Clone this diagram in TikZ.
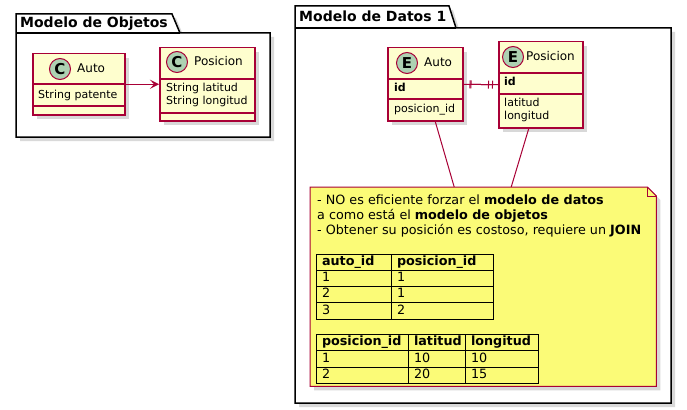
\documentclass[tikz,border=0pt]{standalone}
\usepackage{fontspec}
\setmainfont{DejaVu Sans}
\usepackage{tikz}
\usetikzlibrary{arrows.meta,positioning,calc,shadows,matrix}
\definecolor{umlred}{HTML}{A80036}
\definecolor{classfill}{HTML}{FEFECE}
\definecolor{spotfill}{HTML}{ADD1B2}
\definecolor{notefill}{HTML}{FBFB77}

\begin{document}
\begin{tikzpicture}[x=1pt, y=-1pt,
  shade/.style={drop shadow={shadow xshift=4pt, shadow yshift=-4pt, opacity=0.3}},
  pkg/.style={draw=black, line width=1.5pt, fill=white, line join=miter, shade},
  pkgtitle/.style={anchor=west, inner sep=0, font=\bfseries\fontsize{14}{16}\selectfont},
  klass/.style={draw=umlred, line width=1.5pt, fill=classfill, anchor=north west, inner sep=0, shade},
  divider/.style={draw=umlred, line width=1.5pt},
  spot/.style={circle, draw=umlred, line width=1pt, fill=spotfill, minimum size=21pt, inner sep=0, font=\bfseries\fontsize{15}{15}\selectfont},
  cname/.style={inner sep=0, text height=9pt, text depth=2.5pt, font=\fontsize{12}{14}\selectfont},
  field/.style={anchor=west, inner sep=0, text height=8pt, text depth=2.5pt, font=\fontsize{11}{13}\selectfont},
  link/.style={draw=umlred, line width=1pt},
  arr/.style={link, -{Stealth[length=9pt, width=9pt, inset=4pt]}},
  onlyone/.style={draw=umlred, line width=1pt, {Bar[width=8pt, sep=3pt]Bar[width=8pt]}-{Bar[width=8pt, sep=3pt]Bar[width=8pt]}},
  notebox/.style={draw=umlred, line width=1pt, fill=notefill, shade},
  notetext/.style={anchor=base west, inner sep=0, font=\fontsize{12.75}{15}\selectfont},
  tbl/.style={matrix of nodes, anchor=north west, inner sep=0, outer sep=0, row sep=-1pt, column sep=-1pt,
    nodes={draw, line width=1pt, outer sep=0, inner xsep=6pt, inner ysep=0, minimum height=16.25pt,
      text height=9pt, text depth=2.5pt, align=left, font=\fontsize{12.75}{15}\selectfont},
    row 1/.style={nodes={font=\bfseries\fontsize{12.75}{15}\selectfont}}}
]
  \useasboundingbox (0,0) rectangle (687,409);

  % Modelo de Objetos
  \draw[pkg] (16,33) -- (16,14) -- (172,14) -- (180,33) -- (270,33) -- (270,137) -- (16,137) -- cycle;
  \draw[line width=1.5pt] (16,33) -- (180,33);
  \node[pkgtitle] (pkgobj) at (20,23.5) {Modelo de Objetos};

  \node[klass, minimum width=92pt, minimum height=61pt] (oauto) at (32,53) {};
  \draw[divider] (oauto.west |- 0,84) -- (oauto.east |- 0,84);
  \draw[divider] (oauto.west |- 0,106) -- (oauto.east |- 0,106);
  \node[spot] (oautospot) at (60,69) {C};
  \node[cname, right=6pt of oautospot] (oautoname) {Auto};
  \node[field] (oautopat) at (38,96) {String patente};

  \node[klass, minimum width=95pt, minimum height=73pt] (opos) at (159,47) {};
  \draw[divider] (opos.west |- 0,79) -- (opos.east |- 0,79);
  \draw[divider] (opos.west |- 0,113) -- (opos.east |- 0,113);
  \node[spot] (opospot) at (177,62) {C};
  \node[cname, right=6pt of opospot] (oposname) {Posicion};
  \node[field] (oposlat) at (166,89) {String latitud};
  \node[field, below=2pt of oposlat.south west, anchor=north west] (oposlon) {String longitud};

  \draw[arr] (oauto.east) -- (opos.west);

  % Modelo de Datos 1
  \draw[pkg] (295,28) -- (295,6) -- (449,6) -- (456,28) -- (671,28) -- (671,403) -- (295,403) -- cycle;
  \draw[line width=1.5pt] (295,28) -- (456,28);
  \node[pkgtitle] (pkgdat) at (299,16) {Modelo de Datos 1};

  \node[klass, minimum width=75pt, minimum height=73pt] (eauto) at (387,47) {};
  \draw[divider] (eauto.west |- 0,79) -- (eauto.east |- 0,79);
  \draw[divider] (eauto.west |- 0,99) -- (eauto.east |- 0,99);
  \node[spot] (eautospot) at (407,63) {E};
  \node[cname, right=6pt of eautospot] (eautoname) {Auto};
  \node[field, font=\bfseries\fontsize{11}{13}\selectfont] (eautoid) at (394,89) {id};
  \node[field] (eautopos) at (394,110) {posicion\_id};

  \node[klass, minimum width=84pt, minimum height=86pt] (epos) at (498,41) {};
  \draw[divider] (epos.west |- 0,73) -- (epos.east |- 0,73);
  \draw[divider] (epos.west |- 0,94) -- (epos.east |- 0,94);
  \node[spot] (epospot) at (513,57) {E};
  \node[cname, right=2pt of epospot] (eposname) {Posicion};
  \node[field, font=\bfseries\fontsize{11}{13}\selectfont] (eposid) at (504,83) {id};
  \node[field] (eposlat) at (504,104) {latitud};
  \node[field] (eposlon) at (504,117) {longitud};

  \draw[link] (eauto.east) -- (epos.west);
  \draw[onlyone, shorten <=3pt, shorten >=5pt] (eauto.east) -- (epos.west);

  % nota
  \node[minimum width=346pt, minimum height=199pt, anchor=north west, inner sep=0] (note) at (310,187) {};
  \draw[link] ($(eauto.south)+(10,0)$) -- ($(note.north)+(-29,0)$);
  \draw[link] ($(epos.south)+(-12,0)$) -- ($(note.north)+(28,0)$);
  \draw[notebox] (note.north west) -- ($(note.north east)+(-9,0)$) -- ($(note.north east)+(0,9)$)
    -- (note.south east) -- (note.south west) -- cycle;
  \draw[link] ($(note.north east)+(-9,0)$) -- ($(note.north east)+(-9,9)$) -- ($(note.north east)+(0,9)$);

  \node[notetext] (line1) at (317,204.5) {- NO es eficiente forzar el \textbf{modelo de datos}};
  \node[notetext] (line2) at (317,219.3) {a como está el \textbf{modelo de objetos}};
  \node[notetext] (line3) at (317,234) {- Obtener su posición es costoso, requiere un \textbf{JOIN}};

  \matrix[tbl, column 1/.style={nodes={text width=63pt}}, column 2/.style={nodes={text width=90pt}}]
    (tabauto) at (315.5,253.5) {
    auto\_id & posicion\_id \\
    1 & 1 \\
    2 & 1 \\
    3 & 2 \\
  };

  \matrix[tbl, column 1/.style={nodes={text width=80pt}}, column 2/.style={nodes={text width=45pt}},
    column 3/.style={nodes={text width=61pt}}]
    (tabpos) at (315.5,334) {
    posicion\_id & latitud & longitud \\
    1 & 10 & 10 \\
    2 & 20 & 15 \\
  };
\end{tikzpicture}
\end{document}
